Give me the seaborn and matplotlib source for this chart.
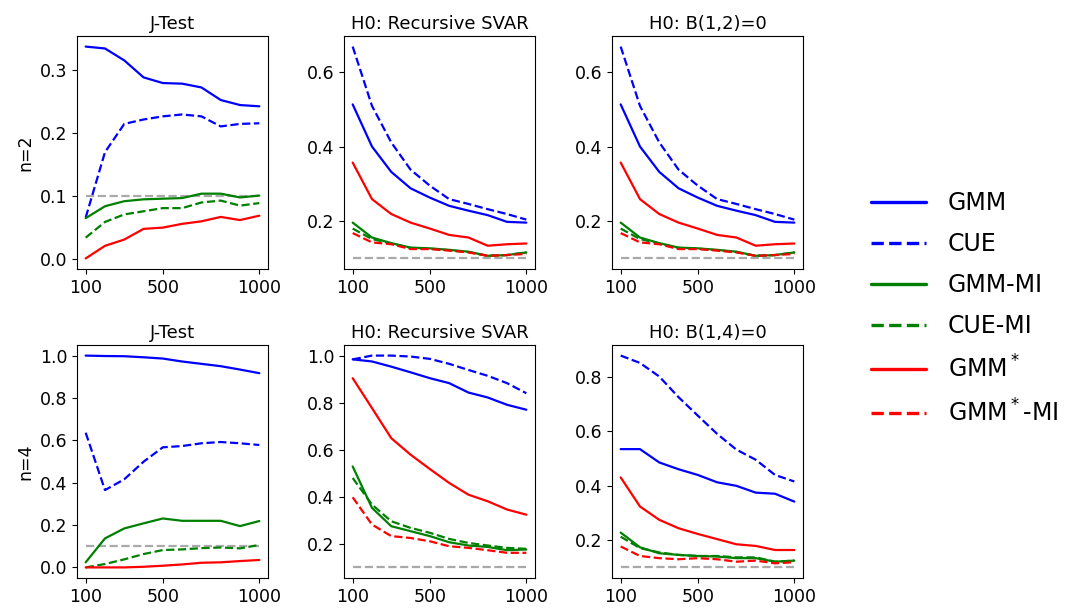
"""
Rejection frequencies of GMM / CUE tests by sample size, n=2 and n=4.
"""

import numpy as np
import pandas as pd
import matplotlib
matplotlib.use("Agg")
import matplotlib.pyplot as plt
import seaborn as sns

sample_sizes = [100, 200, 300, 400, 500, 600, 700, 800, 900, 1000]
nominal_level = 0.1

estimators = ["GMM", "CUE", "GMM-MI", "CUE-MI", "GMM$^*$", "GMM$^*$-MI"]
row_labels = ["n=2", "n=4"]
titles = [
    ["J-Test", "H0: Recursive SVAR", "H0: B(1,2)=0"],
    ["J-Test", "H0: Recursive SVAR", "H0: B(1,4)=0"],
]

# n=2, J-Test (no GMM*-MI)
j2_gmm = [0.338, 0.335, 0.316, 0.289, 0.280, 0.279, 0.273, 0.253, 0.245, 0.243]
j2_cue = [0.066, 0.170, 0.215, 0.222, 0.227, 0.230, 0.227, 0.211, 0.215, 0.216]
j2_gmm_mi = [0.065, 0.084, 0.092, 0.095, 0.096, 0.097, 0.104, 0.104, 0.098, 0.101]
j2_cue_mi = [0.034, 0.059, 0.071, 0.076, 0.081, 0.081, 0.090, 0.093, 0.085, 0.089]
j2_gmms = [0.001, 0.021, 0.031, 0.048, 0.050, 0.056, 0.060, 0.067, 0.062, 0.069]

# n=2, recursive SVAR
r2_gmm = [0.513, 0.400, 0.332, 0.288, 0.263, 0.241, 0.228, 0.216, 0.198, 0.196]
r2_cue = [0.668, 0.509, 0.411, 0.338, 0.295, 0.259, 0.246, 0.232, 0.219, 0.204]
r2_gmm_mi = [0.196, 0.156, 0.141, 0.129, 0.127, 0.123, 0.118, 0.107, 0.109, 0.116]
r2_cue_mi = [0.180, 0.152, 0.140, 0.128, 0.126, 0.122, 0.117, 0.107, 0.109, 0.116]
r2_gmms = [0.357, 0.259, 0.219, 0.196, 0.180, 0.163, 0.156, 0.134, 0.138, 0.140]
r2_gmms_mi = [0.168, 0.143, 0.138, 0.125, 0.125, 0.121, 0.116, 0.107, 0.109, 0.112]

# n=2, B(1,2)=0
b2_gmm = [0.513, 0.400, 0.332, 0.288, 0.263, 0.241, 0.228, 0.216, 0.198, 0.196]
b2_cue = [0.668, 0.509, 0.411, 0.338, 0.295, 0.259, 0.246, 0.232, 0.219, 0.204]
b2_gmm_mi = [0.196, 0.156, 0.141, 0.129, 0.127, 0.123, 0.118, 0.107, 0.109, 0.116]
b2_cue_mi = [0.180, 0.152, 0.140, 0.128, 0.126, 0.122, 0.117, 0.107, 0.109, 0.116]
b2_gmms = [0.357, 0.259, 0.219, 0.196, 0.180, 0.163, 0.156, 0.134, 0.138, 0.140]
b2_gmms_mi = [0.168, 0.143, 0.138, 0.125, 0.125, 0.121, 0.116, 0.107, 0.109, 0.112]

# n=4, J-Test (no GMM*-MI)
j4_gmm = [1.000, 0.998, 0.997, 0.992, 0.986, 0.972, 0.961, 0.950, 0.934, 0.917]
j4_cue = [0.636, 0.365, 0.416, 0.499, 0.567, 0.573, 0.586, 0.592, 0.586, 0.578]
j4_gmm_mi = [0.024, 0.137, 0.184, 0.208, 0.231, 0.220, 0.220, 0.220, 0.195, 0.219]
j4_cue_mi = [0.000, 0.016, 0.038, 0.063, 0.082, 0.085, 0.091, 0.094, 0.090, 0.106]
j4_gmms = [0.000, 0.000, 0.000, 0.003, 0.008, 0.014, 0.022, 0.024, 0.030, 0.035]

# n=4, recursive SVAR
r4_gmm = [0.984, 0.975, 0.953, 0.929, 0.904, 0.883, 0.843, 0.822, 0.791, 0.770]
r4_cue = [0.984, 1.000, 1.000, 0.996, 0.986, 0.965, 0.939, 0.914, 0.883, 0.840]
r4_gmm_mi = [0.529, 0.353, 0.275, 0.254, 0.233, 0.207, 0.193, 0.187, 0.173, 0.176]
r4_cue_mi = [0.480, 0.367, 0.296, 0.268, 0.247, 0.221, 0.204, 0.193, 0.183, 0.179]
r4_gmms = [0.904, 0.777, 0.649, 0.579, 0.518, 0.459, 0.409, 0.381, 0.346, 0.324]
r4_gmms_mi = [0.398, 0.282, 0.233, 0.225, 0.211, 0.190, 0.183, 0.173, 0.162, 0.162]

# n=4, B(1,4)=0
b4_gmm = [0.535, 0.535, 0.486, 0.461, 0.440, 0.413, 0.400, 0.375, 0.371, 0.342]
b4_cue = [0.879, 0.852, 0.802, 0.726, 0.658, 0.591, 0.533, 0.496, 0.440, 0.416]
b4_gmm_mi = [0.228, 0.174, 0.152, 0.146, 0.142, 0.140, 0.134, 0.134, 0.121, 0.125]
b4_cue_mi = [0.213, 0.171, 0.155, 0.146, 0.142, 0.142, 0.137, 0.137, 0.121, 0.125]
b4_gmms = [0.431, 0.324, 0.275, 0.244, 0.223, 0.204, 0.185, 0.179, 0.164, 0.164]
b4_gmms_mi = [0.177, 0.142, 0.134, 0.130, 0.134, 0.130, 0.121, 0.125, 0.115, 0.119]

panels = [
    [
        [j2_gmm, j2_cue, j2_gmm_mi, j2_cue_mi, j2_gmms, None],
        [r2_gmm, r2_cue, r2_gmm_mi, r2_cue_mi, r2_gmms, r2_gmms_mi],
        [b2_gmm, b2_cue, b2_gmm_mi, b2_cue_mi, b2_gmms, b2_gmms_mi],
    ],
    [
        [j4_gmm, j4_cue, j4_gmm_mi, j4_cue_mi, j4_gmms, None],
        [r4_gmm, r4_cue, r4_gmm_mi, r4_cue_mi, r4_gmms, r4_gmms_mi],
        [b4_gmm, b4_cue, b4_gmm_mi, b4_cue_mi, b4_gmms, b4_gmms_mi],
    ],
]

colors = ["blue", "blue", "green", "green", "red", "red"]
styles = ["-", "--", "-", "--", "-", "--"]

sns.set_style("ticks")
plt.rcParams["font.family"] = ["DejaVu Sans"]
plt.rcParams["axes.edgecolor"] = "black"
plt.rcParams["xtick.color"] = "black"
plt.rcParams["ytick.color"] = "black"
plt.rcParams["text.color"] = "black"
plt.rcParams["axes.labelcolor"] = "black"

W, H = 1075, 614
fig = plt.figure(figsize=(W / 100, H / 100), dpi=100)

col_left = [77, 344, 612]
row_top = [36, 345]
ax_w, ax_h = 191, 233

legend_handles = None
for r in range(2):
    for c in range(3):
        ax = fig.add_axes([col_left[c] / W, 1 - (row_top[r] + ax_h) / H, ax_w / W, ax_h / H])
        ax.hlines(nominal_level, sample_sizes[0], sample_sizes[-1],
                  colors="darkgray", linestyles="--", linewidth=1.6)
        for name, vals, col, ls in zip(estimators, panels[r][c], colors, styles):
            if vals is None:
                continue
            df = pd.DataFrame({"T": sample_sizes, "rate": vals})
            sns.lineplot(data=df, x="T", y="rate", color=col, linestyle=ls,
                         linewidth=1.6, label=name, ax=ax)
        ax.set_title(titles[r][c], fontsize=13, pad=5)
        ax.set_xticks([100, 500, 1000])
        ax.set_xlabel("")
        ax.set_ylabel(row_labels[r] if c == 0 else "", fontsize=12.5)
        ax.tick_params(labelsize=12.5)
        if r == 0 and c == 1:
            legend_handles, _ = ax.get_legend_handles_labels()
        ax.get_legend().remove()

leg = fig.legend(legend_handles, estimators, loc="center left",
                 bbox_to_anchor=(850 / W, 0.497), frameon=False, fontsize=17,
                 handlelength=2.3, handletextpad=0.95, labelspacing=0.72)
for line in leg.get_lines():
    line.set_linewidth(2.4)

fig.savefig("out.png", dpi=100)
